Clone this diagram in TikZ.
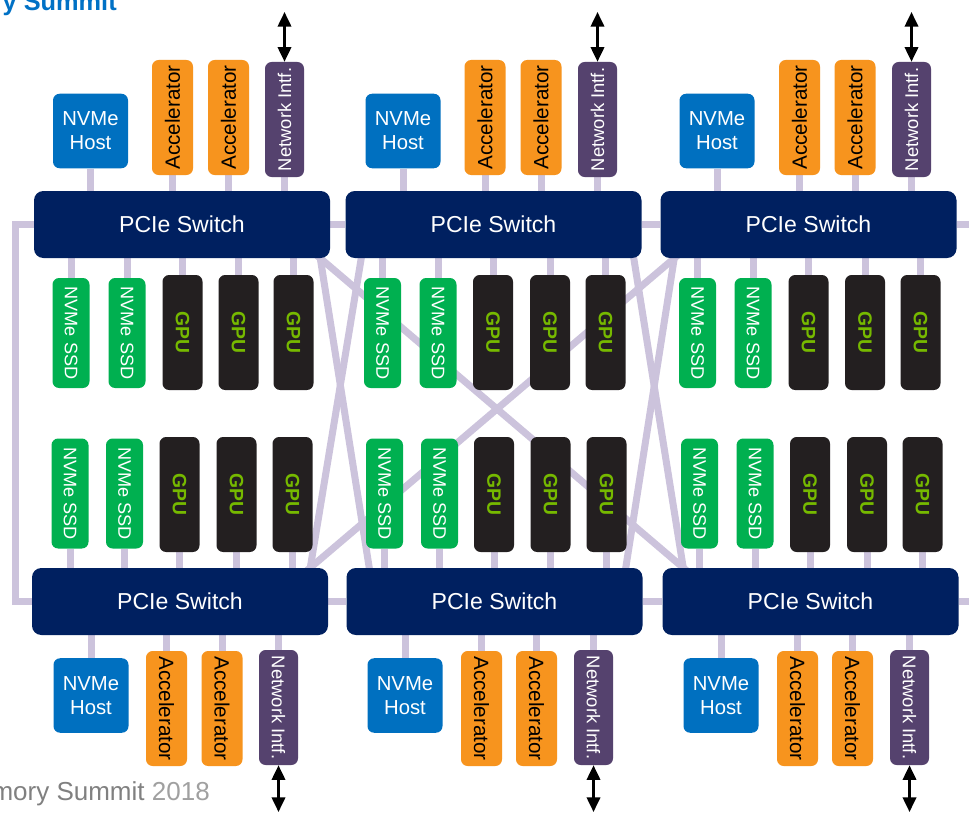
\documentclass[tikz,border=0pt]{standalone}
\usepackage{fontspec}
\setmainfont{Liberation Sans}
\usetikzlibrary{arrows.meta,calc}
\pgfdeclarelayer{background}
\pgfsetlayers{background,main}
\definecolor{swnavy}{RGB}{0,32,96}
\definecolor{hostblue}{RGB}{0,112,192}
\definecolor{accorange}{RGB}{247,148,30}
\definecolor{netpurple}{RGB}{85,66,110}
\definecolor{ssdgreen}{RGB}{0,176,80}
\definecolor{gpudark}{RGB}{35,31,32}
\definecolor{gputext}{RGB}{118,185,0}
\definecolor{linklav}{RGB}{204,195,220}
\definecolor{titleblue}{RGB}{0,113,197}
\definecolor{footgray}{RGB}{128,128,128}
\definecolor{yeargray}{RGB}{160,160,160}
\begin{document}
\begin{tikzpicture}[x=0.75pt,y=-0.75pt,
  sw/.style={fill=swnavy, rounded corners=7pt, text=white, font=\fontsize{17.3}{20}\selectfont,
    minimum width=222pt, minimum height=50.25pt, inner sep=0pt},
  dev/.style={rounded corners=5pt, inner sep=0pt},
  host/.style={dev, fill=hostblue, text=white, align=center, font=\fontsize{15.2}{18}\selectfont,
    minimum width=56.25pt, minimum height=55.9pt},
  acc/.style={dev, fill=accorange, text=black, font=\fontsize{15.5}{18}\selectfont,
    minimum width=86.25pt, minimum height=30.75pt},
  net/.style={dev, fill=netpurple, text=white, font=\fontsize{13.8}{16}\selectfont,
    minimum width=86.25pt, minimum height=29.25pt},
  ssd/.style={dev, fill=ssdgreen, text=white, rotate=-90, font=\fontsize{13.6}{16}\selectfont,
    minimum width=82.5pt, minimum height=27.75pt},
  gpu/.style={dev, fill=gpudark, text=gputext, rotate=-90, font=\bfseries\fontsize{14.5}{16}\selectfont,
    minimum width=86.25pt, minimum height=30pt},
  rotup/.style={rotate=90},
  rotdn/.style={rotate=-90},
  link/.style={draw=linklav, line width=5.25pt},
  arr/.style={{Triangle[width=10pt,length=11pt]}-{Triangle[width=10pt,length=11pt]}, line width=2pt, draw=black}
]
\useasboundingbox (0,0) rectangle (969,813);

% PCIe switches
\node[sw] (tl) at (182,224.5) {PCIe Switch};
\node[sw] (tm) at (493.5,224.5) {PCIe Switch};
\node[sw] (tr) at (808.5,224.5) {PCIe Switch};
\node[sw] (bl) at (180,601.5) {PCIe Switch};
\node[sw] (bm) at (494.5,601.5) {PCIe Switch};
\node[sw] (br) at (810.5,601.5) {PCIe Switch};

% devices above the top switches
\foreach \g/\h/\a/\b/\n in {0/90.5/172.5/228.5/284.5, 1/403/485/541/597.5, 2/717/799.5/855/911.5}{
  \node[host] (hT\g) at (\h,131) {NVMe\\Host};
  \node[acc,rotup] (aT\g) at (\a,117.5) {Accelerator};
  \node[acc,rotup] (bT\g) at (\b,117.5) {Accelerator};
  \node[net,rotup] (nT\g) at (\n,119.5) {Network Intf.};
  \coordinate (eT\g) at (nT\g.east |- 0,12);
  \draw[arr] (nT\g.east) -- (eT\g);
}

% devices below the bottom switches
\foreach \g/\h/\a/\b/\n in {0/91/166.5/222/278.5, 1/405/481.5/536.5/593.5, 2/721/797.5/852.5/909.5}{
  \node[host] (hB\g) at (\h,695.5) {NVMe\\Host};
  \node[acc,rotdn] (aB\g) at (\a,708.5) {Accelerator};
  \node[acc,rotdn] (bB\g) at (\b,708.5) {Accelerator};
  \node[net,rotdn] (nB\g) at (\n,707.5) {Network Intf.};
  \coordinate (eB\g) at (nB\g.east |- 0,812);
  \draw[arr] (nB\g.east) -- (eB\g);
}

% upper row of SSDs and GPUs
\foreach \g/\a/\b/\c/\d/\e in {0/71/127/182.5/238.5/293.5, 1/382.5/438/493/550/605.5, 2/697.5/753/808.5/865/920.5}{
  \node[ssd] (sA\g) at (\a,333) {NVMe SSD};
  \node[ssd] (sB\g) at (\b,333) {NVMe SSD};
  \node[gpu] (sC\g) at (\c,332.5) {GPU};
  \node[gpu] (sD\g) at (\d,332.5) {GPU};
  \node[gpu] (sE\g) at (\e,332.5) {GPU};
}

% lower row of SSDs and GPUs
\foreach \g/\a/\b/\c/\d/\e in {0/70/124.5/179.5/236.5/292.5, 1/384.5/439.5/494/550.5/606.5, 2/699.5/755/810/867/922.5}{
  \node[ssd] (uA\g) at (\a,493.5) {NVMe SSD};
  \node[ssd] (uB\g) at (\b,493.5) {NVMe SSD};
  \node[gpu] (uC\g) at (\c,494.5) {GPU};
  \node[gpu] (uD\g) at (\d,494.5) {GPU};
  \node[gpu] (uE\g) at (\e,494.5) {GPU};
}

% title and footer fragments
\node[anchor=base east, inner sep=0pt, text=titleblue, font=\bfseries\fontsize{19}{22}\selectfont] (title) at (117,11) {y Summit};
\node[anchor=base east, inner sep=0pt, text=footgray, font=\fontsize{19.5}{22}\selectfont] (foot) at (210,800) {mory Summit \textcolor{yeargray}{2018}};

% crossing points on the switches
\coordinate (p1) at ($(tl.south east)+(-10,0)$);
\coordinate (p2) at ($(bl.north east)+(-18,0)$);
\coordinate (p3) at ($(tm.south west)+(16,0)$);
\coordinate (p4) at ($(bm.north west)+(23,0)$);
\coordinate (p5) at ($(tm.south east)+(-8,0)$);
\coordinate (p6) at ($(tr.south west)+(14,0)$);
\coordinate (p7) at ($(bm.north east)+(-17,0)$);
\coordinate (p8) at ($(br.north west)+(21,0)$);
\coordinate (lc1) at (15,224.5);
\coordinate (lc2) at (15,601.5);
\coordinate (re1) at (975,224.5);
\coordinate (re2) at (975,601.5);

\begin{pgfonlayer}{background}
  \fill[white] (0,0) rectangle (969,813);
  % switch to switch
  \draw[link] (tl) -- (tm) -- (tr) -- (re1);
  \draw[link] (bl) -- (bm) -- (br) -- (re2);
  \draw[link] (tl) -- (lc1) -- (lc2) -- (bl);
  \draw[link, shorten <=-8pt, shorten >=-8pt] (p1) -- (p4);
  \draw[link, shorten <=-8pt, shorten >=-8pt] (p3) -- (p2);
  \draw[link, shorten <=-8pt, shorten >=-8pt] (p1) -- (p8);
  \draw[link, shorten <=-8pt, shorten >=-8pt] (p6) -- (p2);
  \draw[link, shorten <=-8pt, shorten >=-8pt] (p5) -- (p8);
  \draw[link, shorten <=-8pt, shorten >=-8pt] (p6) -- (p7);
  % devices to switches
  \foreach \g/\t/\b in {0/tl/bl, 1/tm/bm, 2/tr/br}{
    \foreach \k in {hT,aT,bT,nT,sA,sB,sC,sD,sE}{
      \draw[link] (\k\g) -- (\k\g |- \t);
    }
    \foreach \k in {hB,aB,bB,nB,uA,uB,uC,uD,uE}{
      \draw[link] (\k\g) -- (\k\g |- \b);
    }
  }
\end{pgfonlayer}
\end{tikzpicture}
\end{document}
